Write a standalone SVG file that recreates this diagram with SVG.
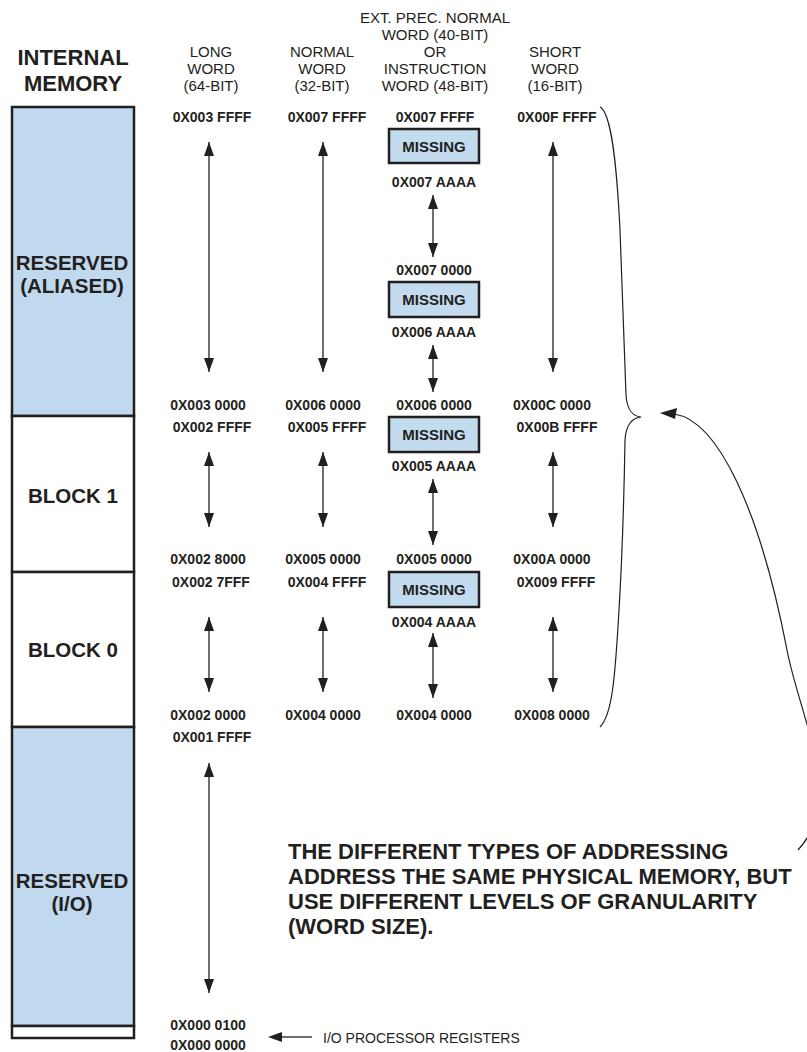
<svg xmlns="http://www.w3.org/2000/svg" width="807" height="1052" viewBox="0 0 807 1052">
  <style>
    text { font-family: "Liberation Sans", Arial, sans-serif; fill: #231f20; }
    .title { font-size: 22px; font-weight: bold; text-anchor: middle; }
    .hdr { font-size: 15px; text-anchor: middle; }
    .seg { font-size: 20.5px; font-weight: bold; text-anchor: middle; }
    .addr { font-size: 14px; font-weight: bold; text-anchor: middle; }
    .miss { font-size: 15px; font-weight: bold; text-anchor: middle; }
    .note { font-size: 22px; font-weight: bold; }
    .small { font-size: 14px; }
    .mem { stroke: #231f20; stroke-width: 2.5; }
    .blue { fill: #c0d9ee; }
    .white { fill: #ffffff; }
    .box { fill: #c2dbef; stroke: #231f20; stroke-width: 2.5; }
    .dbl { stroke: #231f20; stroke-width: 1.3; fill: none; marker-start: url(#ah); marker-end: url(#ah); }
    .curve { stroke: #231f20; stroke-width: 1.2; fill: none; }
  </style>
  <defs>
    <marker id="ah" viewBox="0 0 14 10" refX="14" refY="5" markerWidth="14" markerHeight="10" markerUnits="userSpaceOnUse" orient="auto-start-reverse">
      <path d="M0,0 L14,5 L0,10 z" fill="#231f20"/>
    </marker>
  </defs>

  <!-- column titles -->
  <g id="titles">
    <text class="title" x="73" y="65">INTERNAL</text>
    <text class="title" x="73" y="91">MEMORY</text>
    <text class="hdr" x="211" y="57">LONG</text>
    <text class="hdr" x="211" y="74">WORD</text>
    <text class="hdr" x="211" y="91">(64-BIT)</text>
    <text class="hdr" x="322" y="57">NORMAL</text>
    <text class="hdr" x="322" y="74">WORD</text>
    <text class="hdr" x="322" y="91">(32-BIT)</text>
    <text class="hdr" x="435" y="23">EXT. PREC. NORMAL</text>
    <text class="hdr" x="435" y="40">WORD (40-BIT)</text>
    <text class="hdr" x="435" y="57">OR</text>
    <text class="hdr" x="435" y="74">INSTRUCTION</text>
    <text class="hdr" x="435" y="91">WORD (48-BIT)</text>
    <text class="hdr" x="555" y="57">SHORT</text>
    <text class="hdr" x="555" y="74">WORD</text>
    <text class="hdr" x="555" y="91">(16-BIT)</text>
  </g>

  <!-- internal memory map -->
  <g id="mem-reserved-aliased">
    <rect class="mem blue" x="12" y="107" width="122" height="309"/>
    <text class="seg" x="72" y="270">RESERVED</text>
    <text class="seg" x="72" y="293">(ALIASED)</text>
  </g>
  <g id="mem-block1">
    <rect class="mem white" x="12" y="416" width="122" height="156"/>
    <text class="seg" x="73" y="503">BLOCK 1</text>
  </g>
  <g id="mem-block0">
    <rect class="mem white" x="12" y="572" width="122" height="155"/>
    <text class="seg" x="73" y="657">BLOCK 0</text>
  </g>
  <g id="mem-reserved-io">
    <rect class="mem blue" x="12" y="727" width="122" height="299"/>
    <text class="seg" x="72" y="888">RESERVED</text>
    <text class="seg" x="72" y="911">(I/O)</text>
  </g>
  <g id="mem-iop-regs">
    <rect class="mem white" x="12" y="1026" width="122" height="12"/>
  </g>

  <!-- long word addresses -->
  <g id="long-word">
    <text class="addr" x="212" y="122">0X003 FFFF</text>
    <text class="addr" x="208" y="410">0X003 0000</text>
    <text class="addr" x="212" y="432">0X002 FFFF</text>
    <text class="addr" x="208" y="564">0X002 8000</text>
    <text class="addr" x="211" y="587">0X002 7FFF</text>
    <text class="addr" x="208" y="720">0X002 0000</text>
    <text class="addr" x="212" y="742">0X001 FFFF</text>
    <text class="addr" x="208" y="1030">0X000 0100</text>
    <text class="addr" x="208" y="1050">0X000 0000</text>
  </g>

  <!-- normal word addresses -->
  <g id="normal-word">
    <text class="addr" x="327" y="122">0X007 FFFF</text>
    <text class="addr" x="323" y="410">0X006 0000</text>
    <text class="addr" x="327" y="432">0X005 FFFF</text>
    <text class="addr" x="323" y="564">0X005 0000</text>
    <text class="addr" x="327" y="587">0X004 FFFF</text>
    <text class="addr" x="323" y="720">0X004 0000</text>
  </g>

  <!-- extended precision / instruction word addresses -->
  <g id="ext-word">
    <text class="addr" x="435" y="122">0X007 FFFF</text>
    <text class="addr" x="434" y="187">0X007 AAAA</text>
    <text class="addr" x="434" y="275">0X007 0000</text>
    <text class="addr" x="434" y="337">0X006 AAAA</text>
    <text class="addr" x="434" y="410">0X006 0000</text>
    <text class="addr" x="434" y="471">0X005 AAAA</text>
    <text class="addr" x="434" y="564">0X005 0000</text>
    <text class="addr" x="434" y="627">0X004 AAAA</text>
    <text class="addr" x="434" y="720">0X004 0000</text>
  </g>
  <g id="missing-1">
    <rect class="box" x="389" y="129" width="90" height="34"/>
    <text class="miss" x="434" y="152">MISSING</text>
  </g>
  <g id="missing-2">
    <rect class="box" x="389" y="282" width="90" height="35"/>
    <text class="miss" x="434" y="305">MISSING</text>
  </g>
  <g id="missing-3">
    <rect class="box" x="389" y="417" width="90" height="35"/>
    <text class="miss" x="434" y="440">MISSING</text>
  </g>
  <g id="missing-4">
    <rect class="box" x="389" y="572" width="90" height="35"/>
    <text class="miss" x="434" y="595">MISSING</text>
  </g>

  <!-- short word addresses -->
  <g id="short-word">
    <text class="addr" x="557" y="122">0X00F FFFF</text>
    <text class="addr" x="552" y="410">0X00C 0000</text>
    <text class="addr" x="557" y="432">0X00B FFFF</text>
    <text class="addr" x="552" y="564">0X00A 0000</text>
    <text class="addr" x="556" y="587">0X009 FFFF</text>
    <text class="addr" x="552" y="720">0X008 0000</text>
  </g>

  <!-- I/O processor register label -->
  <g id="iop-label">
    <text class="small" x="323" y="1043">I/O PROCESSOR REGISTERS</text>
  </g>

  <!-- explanatory note -->
  <g id="note">
    <text class="note" x="288" y="859">THE DIFFERENT TYPES OF ADDRESSING</text>
    <text class="note" x="288" y="884">ADDRESS THE SAME PHYSICAL MEMORY, BUT</text>
    <text class="note" x="288" y="909">USE DIFFERENT LEVELS OF GRANULARITY</text>
    <text class="note" x="288" y="934">(WORD SIZE).</text>
  </g>

  <!-- connectors -->
  <g id="connectors">
    <!-- range arrows: long word -->
    <line class="dbl" x1="209" y1="142" x2="209" y2="372"/>
    <line class="dbl" x1="209" y1="452" x2="209" y2="527"/>
    <line class="dbl" x1="209" y1="617" x2="209" y2="692"/>
    <line class="dbl" x1="209" y1="763" x2="209" y2="993"/>
    <!-- normal word -->
    <line class="dbl" x1="323" y1="142" x2="323" y2="372"/>
    <line class="dbl" x1="323" y1="452" x2="323" y2="527"/>
    <line class="dbl" x1="323" y1="617" x2="323" y2="692"/>
    <!-- extended word -->
    <line class="dbl" x1="433" y1="195" x2="433" y2="257"/>
    <line class="dbl" x1="433" y1="345" x2="433" y2="392"/>
    <line class="dbl" x1="433" y1="479" x2="433" y2="545"/>
    <line class="dbl" x1="433" y1="633" x2="433" y2="698"/>
    <!-- short word -->
    <line class="dbl" x1="553" y1="142" x2="553" y2="372"/>
    <line class="dbl" x1="553" y1="452" x2="553" y2="527"/>
    <line class="dbl" x1="553" y1="617" x2="553" y2="692"/>

    <!-- I/O processor register pointer -->
    <line x1="280" y1="1037" x2="312" y2="1037" stroke="#231f20" stroke-width="1.3"/>
    <path d="M268,1037 L282,1032 L282,1042 z" fill="#231f20"/>

    <!-- brace grouping the aliased and block ranges -->
    <path class="curve" d="M600,107 C612,113 617,170 620,230 C623,300 625,370 626,395 C627,410 632,416 641,417 C632,418 626,424 625,440 C624,500 622,560 619,610 C615,680 612,715 600,727"/>

    <!-- pointer from note to brace -->
    <path class="curve" d="M674,414 C718,420 760,510 787,650 C800,718 845,800 798,850"/>
    <path d="M660,413 L677,408 L675,419 z" fill="#231f20"/>
  </g>
</svg>
